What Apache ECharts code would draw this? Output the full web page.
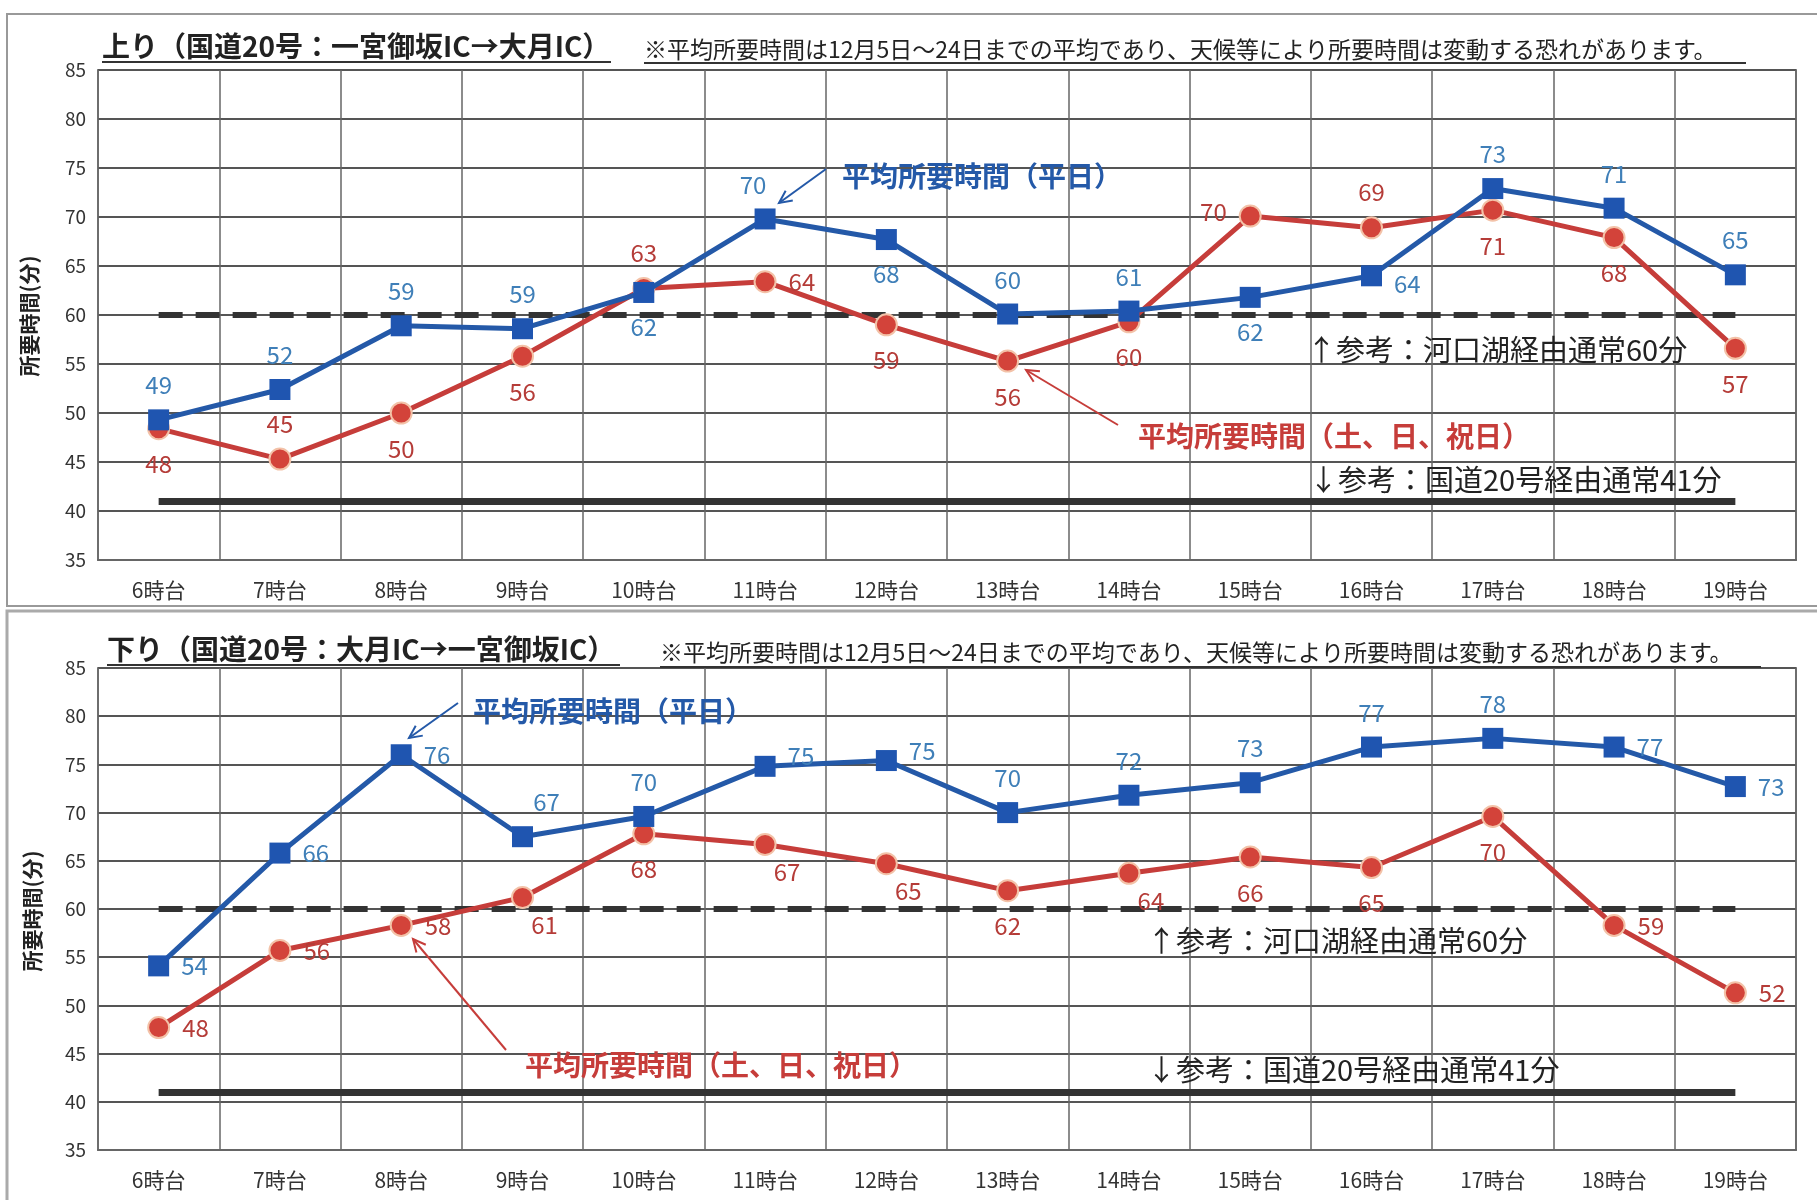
<!DOCTYPE html>
<html>
<head>
<meta charset="utf-8">
<script src="https://cdn.jsdelivr.net/npm/echarts@6/dist/echarts.min.js"></script>
<style>
html, body { margin: 0; padding: 0; background: #fff; }
#chart { width: 1817px; height: 1200px; }
</style>
</head>
<body>
<div id="chart"></div>
<script>
// 時間帯
const hours = ['6時台', '7時台', '8時台', '9時台', '10時台', '11時台', '12時台',
  '13時台', '14時台', '15時台', '16時台', '17時台', '18時台', '19時台'];

// 上り(一宮御坂IC→大月IC) 平日 / 土日祝
const upWeekday = [49.3, 52.4, 58.9, 58.6, 62.3, 69.8, 67.7, 60.1, 60.4, 61.8, 64.0, 72.9, 70.9, 64.1];
const upWeekdayLabels = [49, 52, 59, 59, 62, 70, 68, 60, 61, 62, 64, 73, 71, 65];
const upHoliday = [48.4, 45.3, 50.0, 55.8, 62.7, 63.4, 59.0, 55.3, 59.3, 70.1, 68.9, 70.7, 67.9, 56.6];
const upHolidayLabels = [48, 45, 50, 56, 63, 64, 59, 56, 60, 70, 69, 71, 68, 57];

// 下り(大月IC→一宮御坂IC) 平日 / 土日祝
const downWeekday = [54.1, 65.8, 76.0, 67.5, 69.6, 74.8, 75.4, 70.0, 71.8, 73.1, 76.8, 77.7, 76.8, 72.7];
const downWeekdayLabels = [54, 66, 76, 67, 70, 75, 75, 70, 72, 73, 77, 78, 77, 73];
const downHoliday = [47.7, 55.7, 58.3, 61.2, 67.8, 66.7, 64.7, 61.9, 63.7, 65.4, 64.3, 69.6, 58.3, 51.3];
const downHolidayLabels = [48, 56, 58, 61, 68, 67, 65, 62, 64, 66, 65, 70, 59, 52];

// 参考値(分)
const refLake = 60;   // 河口湖経由
const refRoute20 = 41; // 国道20号経由

// y軸目盛
const yMin = 35, yMax = 85, yStep = 5;

// ラベル位置 (t:上 b:下 r:右 l:左 ...)
const upWeekdayPlace = ['t','t','t','t','b','tl','b','t','t','b','rb','t','t','t'];
const upHolidayPlace = ['b','t','b','b','t','r','b','b','b','l','t','b','b','b'];
const downWeekdayPlace = ['r','r','r','tr','t','rt','rt','t','t','t','t','t','r','r'];
const downHolidayPlace = ['r','r','r','br','b','br','br','b','br','b','b','b','r','r'];

const place = {
  t: { position: 'top' },
  b: { position: 'bottom' },
  r: { position: 'right' },
  l: { position: 'left', offset: [0, -4] },
  tl: { position: 'top', offset: [-12, 0] },
  tr: { position: 'top', offset: [24, 0] },
  br: { position: 'bottom', offset: [22, -8] },
  rt: { position: 'right', offset: [0, -10] },
  rb: { position: 'right', offset: [0, 8] }
};

const FONT = '"Noto Sans CJK JP", "Noto Sans", sans-serif';
const BLUE = '#2459a8', RED = '#c63d3a';
const BLUE_TXT = '#3f7fb8', RED_TXT = '#b53c38';

function pts(values, labels, places) {
  return values.map((v, i) => ({
    value: v,
    label: Object.assign({ formatter: String(labels[i]) }, place[places[i]])
  }));
}

function refLines() {
  return {
    silent: true,
    symbol: 'none',
    label: { show: false },
    z: 1,
    data: [
      [{ coord: [hours[0], refLake], lineStyle: { type: [24, 13], width: 6, color: '#333' } },
       { coord: [hours[hours.length - 1], refLake] }],
      [{ coord: [hours[0], refRoute20], lineStyle: { type: 'solid', width: 7, color: '#333' } },
       { coord: [hours[hours.length - 1], refRoute20] }]
    ]
  };
}

function weekdaySeries(idx, values, labels, places) {
  return {
    name: '平均所要時間(平日)', type: 'line', xAxisIndex: idx, yAxisIndex: idx,
    data: pts(values, labels, places),
    symbol: 'rect', symbolSize: 21,
    lineStyle: { color: BLUE, width: 5 },
    itemStyle: { color: '#1f55b0' },
    label: { show: true, color: BLUE_TXT, fontSize: 24, fontFamily: FONT, distance: 12 },
    z: 4
  };
}

function holidaySeries(idx, values, labels, places) {
  return {
    name: '平均所要時間(土、日、祝日)', type: 'line', xAxisIndex: idx, yAxisIndex: idx,
    data: pts(values, labels, places),
    symbol: 'circle', symbolSize: 21,
    lineStyle: { color: RED, width: 5 },
    itemStyle: { color: '#d3433a', borderColor: '#f3c2a8', borderWidth: 2 },
    label: { show: true, color: RED_TXT, fontSize: 24, fontFamily: FONT, distance: 12 },
    markLine: refLines(),
    z: 3
  };
}

function xAx(idx) {
  return {
    type: 'category', gridIndex: idx, data: hours, boundaryGap: true,
    axisLine: { show: true, lineStyle: { color: '#666', width: 2 } },
    axisTick: { show: false },
    axisLabel: { color: '#333', fontSize: 21, fontFamily: FONT, margin: 20, interval: 0 },
    splitLine: { show: true, interval: 0, lineStyle: { color: '#666', width: 1.5 } }
  };
}

function yAx(idx) {
  return {
    type: 'value', gridIndex: idx, min: yMin, max: yMax, interval: yStep,
    axisLine: { show: false }, axisTick: { show: false },
    axisLabel: { color: '#333', fontSize: 19, fontFamily: FONT, margin: 12 },
    splitLine: { show: true, lineStyle: { color: '#555', width: 2 } }
  };
}

function arrow(x1, y1, x2, y2, color) {
  const a = Math.atan2(y2 - y1, x2 - x1), h = 14, s = 0.45;
  const ls = { stroke: color, lineWidth: 2 };
  return [
    { type: 'line', shape: { x1, y1, x2, y2 }, style: ls, z: 10 },
    { type: 'polyline', shape: { points: [
        [x2 - h * Math.cos(a - s), y2 - h * Math.sin(a - s)], [x2, y2],
        [x2 - h * Math.cos(a + s), y2 - h * Math.sin(a + s)]] },
      style: Object.assign({ fill: null }, ls), z: 10 }
  ];
}

function txt(x, y, text, size, color, bold, sx) {
  return {
    type: 'text', x, y, z: 10, scaleX: sx || 1,
    style: { text, fill: color, font: (bold ? 'bold ' : '') + size + 'px ' + FONT,
      textAlign: 'left', textVerticalAlign: 'middle' }
  };
}

function uline(x1, x2, y) {
  return { type: 'line', shape: { x1, y1: y, x2, y2: y }, style: { stroke: '#333', lineWidth: 2 }, z: 10 };
}

function vname(x, y) {
  return {
    type: 'text', x, y, rotation: Math.PI / 2, z: 10,
    style: { text: '所要時間(分)', fill: '#222', font: 'bold 21px ' + FONT,
      textAlign: 'center', textVerticalAlign: 'middle' }
  };
}

const note = '※平均所要時間は12月5日～24日までの平均であり、天候等により所要時間は変動する恐れがあります。';

const graphics = [].concat(
  // 枠
  [{ type: 'rect', shape: { x: 7, y: 14, width: 1830, height: 592 }, style: { fill: null, stroke: '#999', lineWidth: 2 }, z: 0 },
   { type: 'rect', shape: { x: 7, y: 611, width: 1830, height: 620 }, style: { fill: null, stroke: '#aaa', lineWidth: 3 }, z: 0 }],
  // 上り
  [txt(102, 46, '上り（国道20号：一宮御坂IC→大月IC）', 28, '#222', true),
   uline(102, 611, 62),
   txt(644, 49, note, 23, '#222', false),
   uline(644, 1746, 63),
   vname(29, 316),
   txt(842, 176, '平均所要時間（平日）', 28, BLUE, true),
   txt(1138, 436, '平均所要時間（土、日、祝日）', 28, RED, true),
   txt(1307, 350, '↑参考：河口湖経由通常60分', 29, '#222', false),
   txt(1309, 480, '↓参考：国道20号経由通常41分', 29, '#222', false)],
  arrow(826, 169, 779, 203, BLUE),
  arrow(1118, 425, 1026, 370, RED),
  // 下り
  [txt(107, 649, '下り（国道20号：大月IC→一宮御坂IC）', 28, '#222', true),
   uline(107, 620, 665),
   txt(660, 652, note, 23, '#222', false),
   uline(660, 1761, 667),
   vname(32, 911),
   txt(473, 711, '平均所要時間（平日）', 28, BLUE, true),
   txt(525, 1065, '平均所要時間（土、日、祝日）', 28, RED, true),
   txt(1147, 941, '↑参考：河口湖経由通常60分', 29, '#222', false),
   txt(1147, 1070, '↓参考：国道20号経由通常41分', 29, '#222', false)],
  arrow(458, 703, 409, 738, BLUE),
  arrow(506, 1050, 413, 939, RED)
);

const myChart = echarts.init(document.getElementById('chart'));
const option = {
  animation: false,
  backgroundColor: '#fff',
  grid: [
    { left: 98, right: 21, top: 70, height: 490, show: true, borderColor: '#888', borderWidth: 2 },
    { left: 98, right: 21, top: 668, height: 482, show: true, borderColor: '#888', borderWidth: 2 }
  ],
  xAxis: [xAx(0), xAx(1)],
  yAxis: [yAx(0), yAx(1)],
  series: [
    holidaySeries(0, upHoliday, upHolidayLabels, upHolidayPlace),
    weekdaySeries(0, upWeekday, upWeekdayLabels, upWeekdayPlace),
    holidaySeries(1, downHoliday, downHolidayLabels, downHolidayPlace),
    weekdaySeries(1, downWeekday, downWeekdayLabels, downWeekdayPlace)
  ],
  graphic: graphics
};
myChart.setOption(option);
</script>
</body>
</html>
